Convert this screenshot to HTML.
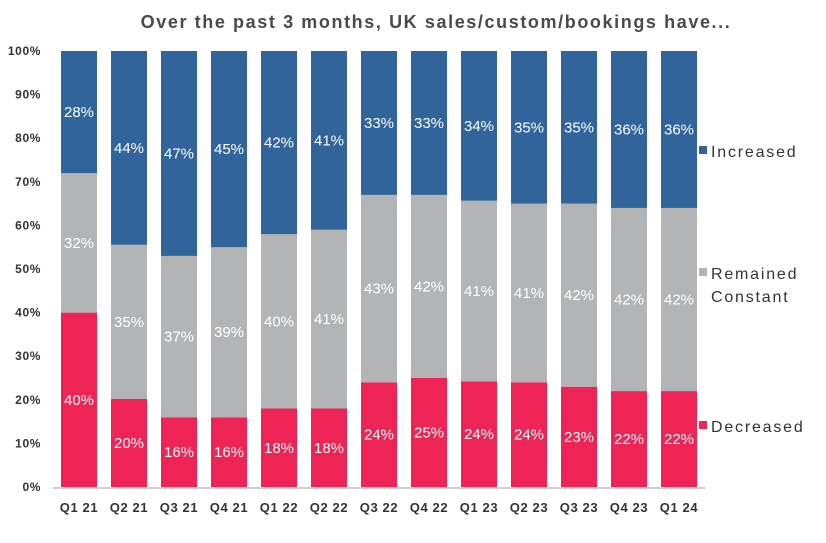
<!DOCTYPE html>
<html><head><meta charset="utf-8"><style>
body{margin:0;background:#fff;}
svg{display:block;font-family:"Liberation Sans",Arial,sans-serif;}
</style></head><body>
<svg id="chart" width="826" height="543">
<text x="436" y="28" text-anchor="middle" font-size="18" font-weight="bold" letter-spacing="1.6" fill="#4a4a4a">Over the past 3 months, UK sales/custom/bookings have...</text>
<g id="yaxis"></g>
<g id="bars"></g>
<line x1="53" x2="705" y1="488" y2="488" stroke="#bfbfbf" stroke-width="1.5"/>
<g id="xaxis"></g>
<g>
<g><rect x="699" y="146" width="8" height="8" fill="#31649a"/><text x="711" y="157" font-size="16" letter-spacing="1.8" fill="#333">Increased</text></g>
<g><rect x="699" y="268" width="8" height="8" fill="#b2b4b5"/><text x="711" y="279" font-size="16" letter-spacing="1.8" fill="#333">Remained</text><text x="711" y="302" font-size="16" letter-spacing="1.8" fill="#333">Constant</text></g>
<g><rect x="699" y="421" width="8" height="8" fill="#ee2456"/><text x="711" y="432" font-size="16" letter-spacing="1.8" fill="#333">Decreased</text></g>
</g>
</svg>
<script>
const categories=["Q1 21","Q2 21","Q3 21","Q4 21","Q1 22","Q2 22","Q3 22","Q4 22","Q1 23","Q2 23","Q3 23","Q4 23","Q1 24"];
const decreased=[40,20,16,16,18,18,24,25,24,24,23,22,22];
const remained=[32,35,37,39,40,41,43,42,41,41,42,42,42];
const increased=[28,44,47,45,42,41,33,33,34,35,35,36,36];
const yTicks=[0,10,20,30,40,50,60,70,80,90,100];
const NS="http://www.w3.org/2000/svg";
const y0=487,y100=51,x0=61,step=50,bw=36;
const y=v=>y0-(y0-y100)*v/100;
const x=i=>x0+i*step;
function mk(t,a,p){const e=document.createElementNS(NS,t);for(const k in a)e.setAttribute(k,a[k]);p.appendChild(e);return e;}
const ya=document.getElementById('yaxis'),bars=document.getElementById('bars'),xa=document.getElementById('xaxis');
yTicks.forEach(v=>{const t=mk('text',{x:41,y:y(v)+4,'text-anchor':'end','font-size':12,'font-weight':'bold','letter-spacing':0.6,fill:'#333'},ya);t.textContent=v+'%';

});
const series=[{d:decreased,c:'#ee2456',n:'decreased'},{d:remained,c:'#b2b4b5',n:'remained'},{d:increased,c:'#31649a',n:'increased'}];
categories.forEach((cat,i)=>{
 const tot=decreased[i]+remained[i]+increased[i];let acc=0;
 series.forEach(s=>{const v=s.d[i]/tot*100;const top=y(acc+v),bot=y(acc);
  const r=mk('rect',{x:x(i),y:top,width:bw,height:bot-top,fill:s.c},bars);
  
  
  const t=mk('text',{x:x(i)+bw/2,y:(top+bot)/2+5,'text-anchor':'middle','font-size':15,fill:'#fff'},bars);t.textContent=s.d[i]+'%';
  
  
  acc+=v;});
 const t=mk('text',{x:x(i)+bw/2,y:512,'text-anchor':'middle','font-size':13,'font-weight':'bold','letter-spacing':0.6,fill:'#333'},xa);t.textContent=cat;
 
 
});
</script>
</body></html>
